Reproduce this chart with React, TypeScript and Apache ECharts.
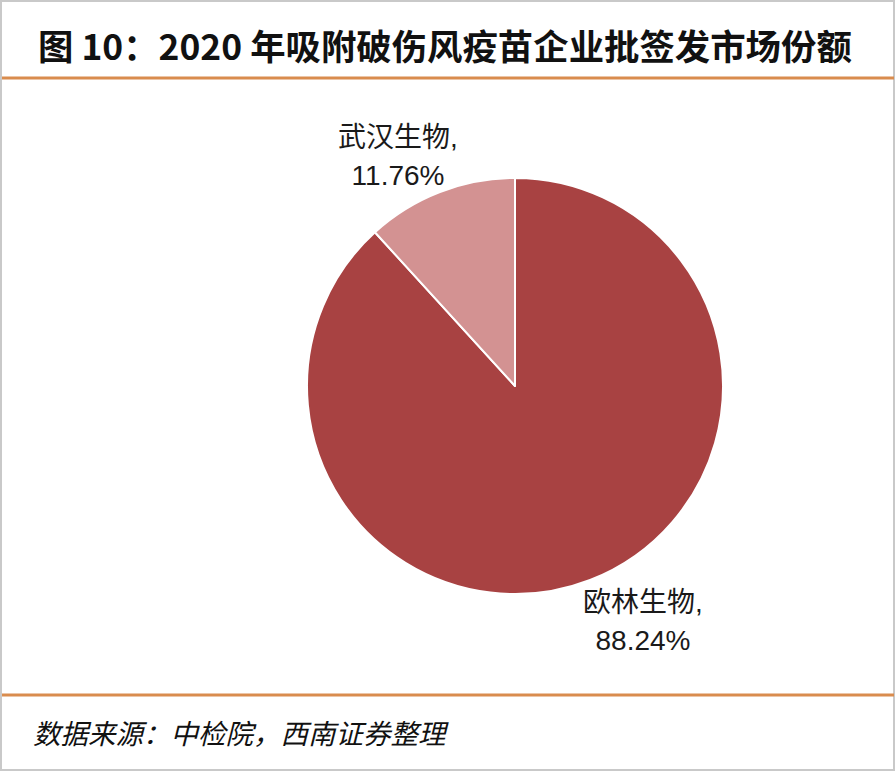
import React, { useEffect, useRef } from "react";
import * as echarts from "echarts";

const companies = ["欧林生物", "武汉生物"];
const shares = [88.24, 11.76];
const sliceColors = ["#A84242", "#D39292"];
const titleText = "图 10：2020 年吸附破伤风疫苗企业批签发市场份额";
const sourceText = "数据来源：中检院，西南证券整理";

export default function App() {
  const ref = useRef<HTMLDivElement>(null);
  useEffect(() => {
    document.body.style.margin = "0";
    const chart = echarts.init(ref.current!, null, { renderer: "svg" });
    const labelPos: Record<string, [number, number]> = {
      欧林生物: [643, 621],
      武汉生物: [398, 156],
    };
    chart.setOption({
      animation: false,
      backgroundColor: "#ffffff",
      graphic: [
        {
          type: "rect",
          shape: { x: 1, y: 1, width: 893, height: 769 },
          style: { fill: "none", stroke: "#c9c9c9", lineWidth: 2 },
        },
        {
          type: "line",
          shape: { x1: 2, y1: 78, x2: 894, y2: 78 },
          style: { stroke: "#D98C4E", lineWidth: 3 },
        },
        {
          type: "line",
          shape: { x1: 2, y1: 695, x2: 894, y2: 695 },
          style: { stroke: "#D98C4E", lineWidth: 3 },
        },
        {
          type: "text",
          x: 38,
          y: 44,
          style: {
            text: titleText,
            font: "bold 35.4px 'Noto Sans CJK SC', sans-serif",
            fill: "#111",
            verticalAlign: "middle",
          },
        },
        {
          type: "text",
          x: 33,
          y: 732,
          style: {
            text: sourceText,
            font: "italic 27.5px 'Noto Sans CJK SC', sans-serif",
            fill: "#111",
            verticalAlign: "middle",
          },
        },
      ],
      series: [
        {
          type: "pie",
          center: [515, 386],
          radius: 208,
          startAngle: 90,
          clockwise: true,
          itemStyle: { borderColor: "#ffffff", borderWidth: 2 },
          label: {
            show: true,
            position: "outside",
            formatter: (p: any) => `${p.name},\n${p.value.toFixed(2)}%`,
            fontFamily: "'Liberation Sans', 'Noto Sans CJK SC', sans-serif",
            fontSize: 28,
            lineHeight: 38,
            color: "#1a1a1a",
            align: "center",
          },
          labelLine: { show: false },
          labelLayout: (params: any) => {
            const name = companies[params.dataIndex];
            const [x, y] = labelPos[name];
            return { x, y, align: "center", verticalAlign: "middle" };
          },
          data: companies.map((name, i) => ({
            name,
            value: shares[i],
            itemStyle: { color: sliceColors[i] },
          })),
        },
      ],
    });
    return () => chart.dispose();
  }, []);
  return (
    <div
      ref={ref}
      style={{ position: "absolute", left: 0, top: 0, width: 896, height: 772 }}
    />
  );
}
